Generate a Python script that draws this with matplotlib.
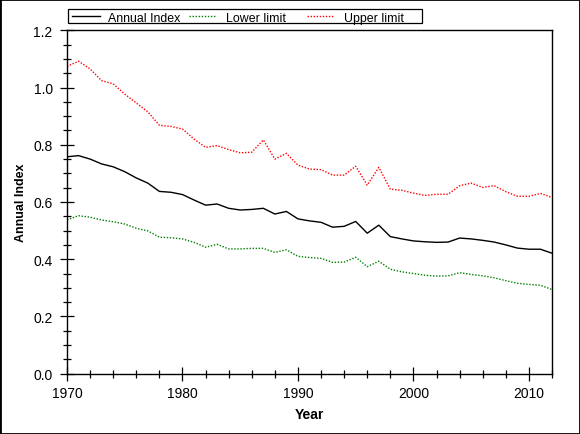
import matplotlib
matplotlib.use("Agg")
import matplotlib.pyplot as plt
from matplotlib.patches import Rectangle
from matplotlib.lines import Line2D
from matplotlib.ticker import MultipleLocator, FormatStrFormatter
import numpy as np

plt.rcParams['font.family'] = ['Liberation Sans', 'DejaVu Sans']

# values
years = np.arange(1970, 2013)
annual_index = [0.758, 0.762, 0.750, 0.733, 0.723, 0.706, 0.684, 0.666, 0.637, 0.634,
                0.626, 0.607, 0.589, 0.593, 0.578, 0.572, 0.574, 0.578, 0.558, 0.567,
                0.541, 0.534, 0.529, 0.512, 0.515, 0.532, 0.491, 0.519, 0.479, 0.471,
                0.464, 0.461, 0.459, 0.460, 0.474, 0.471, 0.466, 0.460, 0.450, 0.439,
                0.435, 0.435, 0.421]
lower_limit = [0.538, 0.552, 0.547, 0.537, 0.531, 0.523, 0.508, 0.499, 0.477, 0.475,
               0.471, 0.459, 0.442, 0.452, 0.436, 0.436, 0.438, 0.438, 0.424, 0.433,
               0.410, 0.406, 0.403, 0.389, 0.390, 0.407, 0.374, 0.393, 0.365, 0.356,
               0.350, 0.344, 0.341, 0.342, 0.353, 0.347, 0.342, 0.335, 0.325, 0.316,
               0.312, 0.309, 0.294]
upper_limit = [1.074, 1.092, 1.065, 1.024, 1.013, 0.977, 0.946, 0.915, 0.868, 0.864,
               0.855, 0.820, 0.791, 0.797, 0.783, 0.772, 0.774, 0.817, 0.750, 0.770,
               0.729, 0.715, 0.713, 0.694, 0.694, 0.725, 0.659, 0.721, 0.645, 0.641,
               0.631, 0.623, 0.627, 0.627, 0.657, 0.666, 0.651, 0.657, 0.636, 0.620,
               0.620, 0.630, 0.616]

series_labels = ['Annual Index', 'Lower limit', 'Upper limit']
series_colors = ['black', '#008000', '#ff0000']
dotted = (0, (1, 1.2))
series_styles = ['-', dotted, dotted]

W, H = 580, 435
fig = plt.figure(figsize=(W / 100, H / 100), dpi=100)
ax = fig.add_axes([67 / W, 1 - 374.7 / H, (552 - 67) / W, (374.7 - 31.3) / H])

for vals, lab, col, ls in zip([annual_index, lower_limit, upper_limit],
                              series_labels, series_colors, series_styles):
    ax.plot(years, vals, color=col, lw=1.0, ls=ls, label=lab)

ax.set_xlim(1970, 2012)
ax.set_ylim(0, 1.2)
ax.xaxis.set_major_locator(MultipleLocator(10))
ax.xaxis.set_minor_locator(MultipleLocator(2))
ax.yaxis.set_major_locator(MultipleLocator(0.2))
ax.yaxis.set_minor_locator(MultipleLocator(0.05))
ax.yaxis.set_major_formatter(FormatStrFormatter('%.1f'))
ax.tick_params(which='major', direction='inout', length=10, width=0.9, labelsize=10)
ax.tick_params(axis='x', which='major', pad=4.0)
ax.tick_params(axis='y', which='major', pad=5.3)
ax.tick_params(which='minor', direction='inout', length=6, width=0.9)
for s in ax.spines.values():
    s.set_linewidth(1.0)

ax.set_xlabel('Year', fontsize=10, fontweight='bold', labelpad=5.2)
ax.set_ylabel('Annual Index', fontsize=9, fontweight='bold', labelpad=4.5)

# legend drawn by hand: fixed column widths as in the reference
def fx(px):
    return px / W

def fy(py):
    return 1 - py / H

fig.patches.append(Rectangle((fx(67.5), fy(24)), fx(422.5) - fx(67.5), fy(10) - fy(24),
                             transform=fig.transFigure, fill=False,
                             edgecolor='black', lw=0.9))
handle_x = [(71.5, 100), (189, 216), (307, 334)]
text_x = [108, 226.5, 344]
for (x0, x1), tx, lab, col, ls in zip(handle_x, text_x, series_labels,
                                      series_colors, series_styles):
    fig.add_artist(Line2D([fx(x0), fx(x1)], [fy(17.3), fy(17.3)],
                          transform=fig.transFigure, color=col, lw=1.0, ls=ls))
    fig.text(fx(tx), fy(21.8), lab, fontsize=8.9, va='baseline', ha='left')

# frame around the whole picture
fig.patches.append(Rectangle((0, 0), 1, 1, transform=fig.transFigure,
                             fill=False, edgecolor='black', lw=2))

fig.savefig('out.png', dpi=100)
